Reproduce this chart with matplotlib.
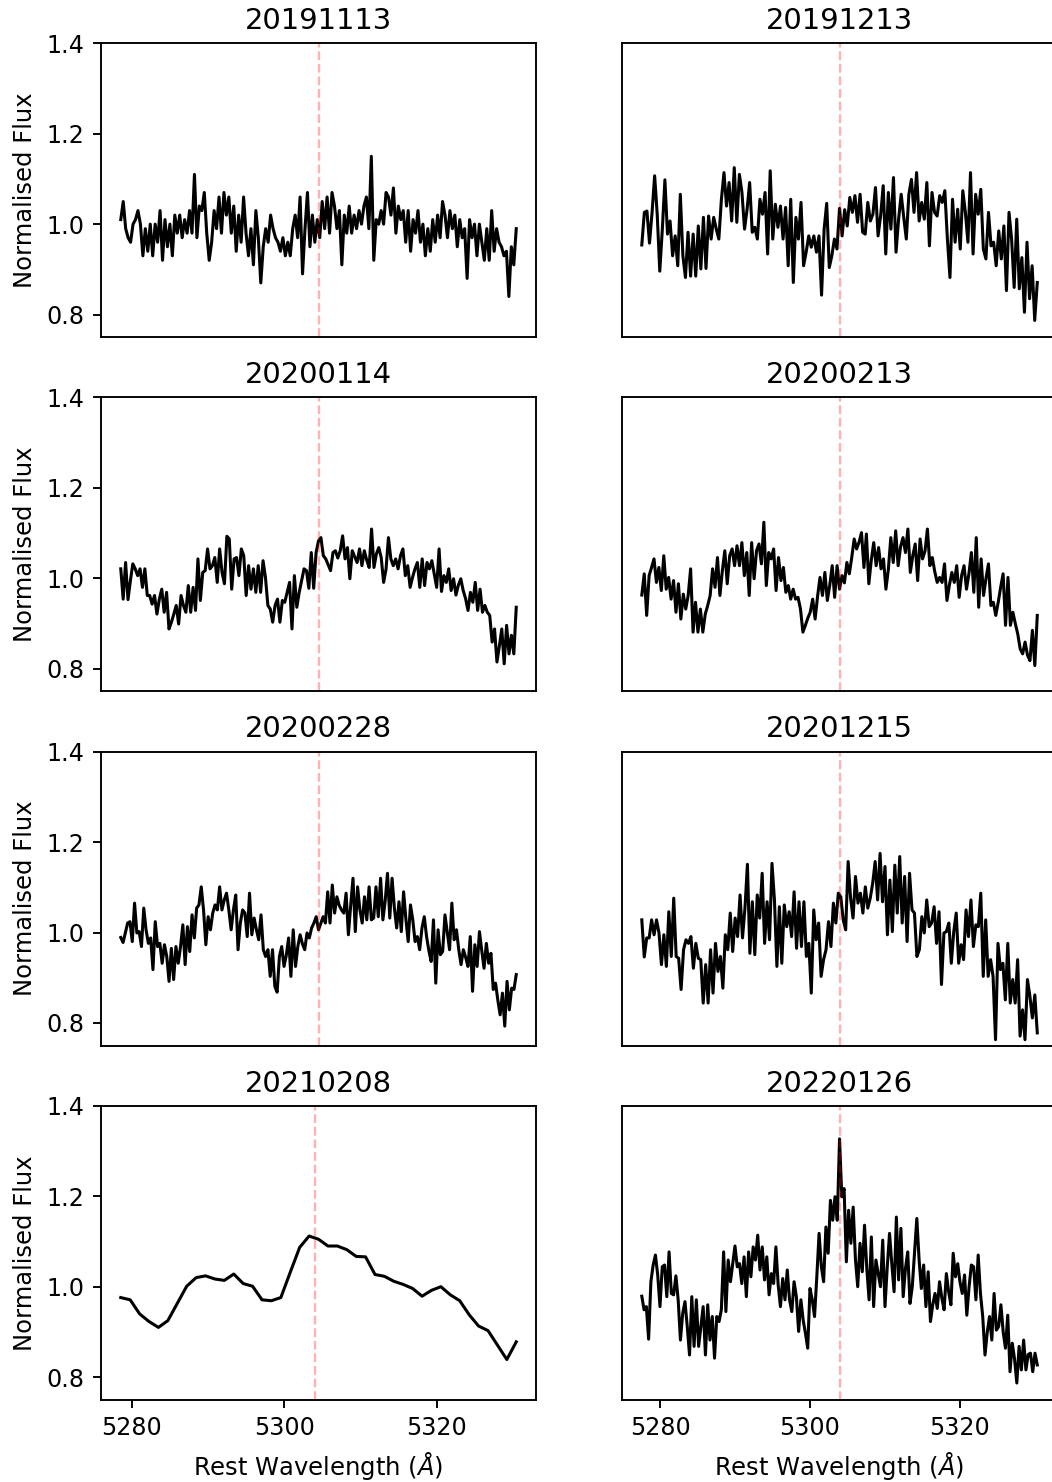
import numpy as np
import matplotlib
matplotlib.use("Agg")
import matplotlib.pyplot as plt

OUTPUT_PATH = "out.png"

# observation dates, one panel each (row-major)
EPOCHS = ["20191113", "20191213", "20200114", "20200213",
          "20200228", "20201215", "20210208", "20220126"]

# rest-frame wavelength coverage of the spectra (Angstrom)
WAVE_HIRES = (5277.5, 5330.4)
WAVE_LOWRES = (5278.56, 5330.4)
LINE_CENTRE = 5304.0

FLUX_20191113 = [
    1.01, 1.05, 0.99, 0.97, 0.96, 1.00, 1.01, 1.03, 1.00, 0.93, 0.99, 0.94, 1.00, 0.93, 1.00,
    0.96, 1.03, 0.92, 1.01, 0.95, 1.00, 0.93, 1.02, 0.98, 1.02, 0.97, 1.01, 0.98, 1.03,
    0.98, 1.11, 0.97, 1.04, 1.03, 1.07, 0.98, 0.92, 0.96, 1.03, 0.99, 1.06, 0.98,
    1.07, 1.02, 1.06, 0.98, 1.04, 0.94, 1.02, 0.96, 1.06, 0.98, 0.93, 0.99, 0.91, 1.03,
    0.97, 0.87, 0.95, 0.99, 0.96, 1.02, 0.99, 0.97, 0.96, 0.94, 0.97, 0.93, 0.96, 0.93,
    0.99, 1.02, 0.97, 1.06, 0.89, 0.99, 1.07, 0.95, 1.02, 0.96, 1.01, 0.97, 1.05,
    0.99, 1.06, 0.98, 1.07, 1.04, 0.99, 1.03, 0.91, 1.02, 0.98, 1.04, 0.98, 1.02, 0.99,
    1.03, 1.00, 1.04, 1.06, 0.99, 1.15, 0.92, 1.01, 1.00, 1.03, 1.00, 1.07, 1.06,
    1.02, 1.08, 0.98, 1.04, 1.01, 1.03, 0.96, 1.03, 0.94, 1.01, 0.98, 1.03, 0.96,
    1.00, 0.93, 0.99, 0.94, 1.01, 0.96, 1.02, 0.97, 1.05, 1.02, 0.97, 1.03, 0.99,
    1.02, 0.95, 1.01, 0.97, 0.99, 0.88, 1.01, 0.97, 1.00, 0.93, 1.00, 0.96, 0.92,
    0.99, 0.92, 1.03, 0.94, 0.99, 0.96, 0.95, 0.93, 0.94, 0.84, 0.95, 0.91, 0.99,
]

FLUX_20191213 = [
    0.954, 1.026, 1.029, 0.958, 1.026, 1.107, 1.022, 0.896, 0.989, 1.098, 0.978, 1.007,
    0.930, 0.974, 0.908, 1.066, 0.930, 0.882, 0.982, 0.885, 0.978, 0.885, 0.996, 0.901,
    1.015, 0.902, 1.018, 0.967, 1.015, 0.989, 0.967, 1.055, 1.114, 1.040, 1.092, 1.007,
    1.125, 1.004, 1.110, 1.070, 0.989, 1.033, 1.092, 0.982, 0.993, 0.967, 1.055, 1.022,
    1.070, 0.934, 1.118, 0.967, 1.044, 0.993, 1.040, 0.967, 1.037, 0.908, 1.055, 0.871,
    1.015, 0.967, 1.048, 0.908, 0.938, 0.974, 0.949, 0.974, 0.938, 0.974, 0.843, 0.989,
    1.046, 0.904, 0.930, 0.967, 0.945, 1.035, 0.974, 1.032, 0.996, 1.059, 1.026, 1.063,
    1.004, 1.066, 0.982, 0.978, 1.048, 1.007, 1.022, 1.081, 0.974, 1.018, 1.085, 0.934,
    1.070, 0.989, 1.103, 0.938, 1.011, 1.066, 1.015, 0.967, 1.066, 1.099, 1.026, 1.114,
    1.007, 1.048, 1.011, 1.092, 0.952, 1.070, 1.026, 1.018, 1.063, 1.048, 1.074, 0.967,
    0.882, 1.055, 0.960, 1.033, 0.945, 1.074, 1.026, 0.960, 1.114, 0.934, 1.066, 1.022,
    1.077, 0.945, 0.923, 1.026, 0.952, 0.960, 0.908, 0.985, 0.923, 0.996, 0.853, 1.026,
    0.967, 0.860, 1.011, 0.857, 0.926, 0.805, 0.960, 0.835, 0.908, 0.787, 0.871,
]

FLUX_20200114 = [
    1.021, 0.954, 1.035, 0.953, 0.995, 1.032, 1.021, 1.006, 1.021, 0.980, 1.021, 0.962,
    0.962, 0.943, 0.962, 0.921, 0.954, 0.976, 0.925, 0.969, 0.888, 0.903, 0.921, 0.940,
    0.899, 0.962, 0.940, 0.925, 0.984, 0.925, 0.980, 0.929, 1.043, 0.951, 1.013, 1.017,
    1.065, 1.021, 1.028, 1.046, 0.991, 1.065, 1.013, 0.988, 1.093, 1.087, 0.976, 1.043,
    1.046, 1.006, 1.065, 1.050, 0.962, 1.028, 0.976, 1.021, 0.969, 1.028, 0.969, 1.039,
    1.002, 0.940, 0.932, 0.903, 0.940, 0.954, 0.903, 0.951, 0.947, 0.969, 0.991, 0.888,
    1.006, 0.936, 0.969, 0.995, 1.021, 1.017, 0.978, 1.057, 0.978, 1.057, 1.083, 1.090,
    1.050, 1.043, 1.030, 1.017, 1.057, 1.061, 1.045, 1.061, 1.094, 1.043, 1.068, 0.999,
    1.061, 1.048, 1.035, 1.065, 1.028, 1.061, 1.040, 1.024, 1.109, 1.024, 1.054, 1.068,
    1.046, 0.991, 1.020, 1.090, 1.043, 1.028, 1.043, 1.021, 1.050, 1.065, 1.006, 1.028,
    0.980, 1.002, 1.021, 1.035, 0.980, 1.043, 0.984, 1.035, 1.021, 1.039, 1.010, 0.980,
    1.065, 0.971, 1.006, 0.991, 1.021, 0.973, 0.999, 0.963, 0.985, 0.999, 0.973, 0.955,
    0.929, 0.969, 0.947, 0.991, 0.929, 0.976, 0.925, 0.940, 0.925, 0.918, 0.859, 0.888,
    0.815, 0.850, 0.888, 0.811, 0.896, 0.833, 0.874, 0.833, 0.936,
]

FLUX_20200213 = [
    0.963, 1.010, 0.918, 1.006, 1.024, 1.043, 0.991, 1.024, 0.973, 1.050, 0.976, 1.002,
    0.954, 0.995, 0.925, 0.988, 0.910, 0.965, 0.932, 0.962, 1.021, 0.881, 0.947, 0.881,
    0.932, 0.881, 0.921, 0.940, 0.962, 1.021, 0.980, 1.046, 0.962, 1.017, 1.061, 0.988,
    1.050, 1.065, 1.028, 1.072, 1.028, 1.079, 1.006, 1.057, 0.962, 1.079, 0.999, 1.061,
    1.076, 1.032, 1.124, 0.984, 1.057, 1.043, 1.065, 0.973, 1.046, 0.995, 1.024, 0.969,
    0.984, 0.954, 0.976, 0.954, 0.958, 0.932, 0.881,
    0.896, 0.912, 0.925, 0.954, 0.910, 0.960, 1.002, 0.962, 1.013, 0.951, 0.985, 1.028,
    0.958, 1.028, 0.976, 1.006, 0.990, 1.035, 1.010, 1.046, 1.087, 1.065, 1.080, 1.101,
    1.024, 1.098, 0.988, 1.040, 1.079, 1.028, 1.068, 1.021, 1.043, 0.976, 1.020, 1.090,
    1.035, 1.105, 1.028, 1.070, 1.090, 1.057, 1.109, 1.013, 1.050, 1.076, 0.995, 1.087,
    1.043, 1.060, 1.109, 1.028, 1.046, 1.015, 0.991, 1.002, 0.991, 1.032, 0.951, 0.985,
    1.013, 0.991, 1.028, 0.958, 1.006, 1.028, 0.976, 1.010, 1.057, 0.969, 1.090, 0.936,
    1.043, 0.962, 1.000, 1.032, 0.940, 0.947, 0.918, 0.947, 0.980, 1.010, 0.896, 1.002,
    0.896, 0.925, 0.900, 0.877, 0.844, 0.833, 0.859, 0.830, 0.818, 0.885, 0.807, 0.918,
]

FLUX_20200228 = [
    0.989, 0.978, 1.000, 1.021, 1.024, 0.980, 1.065, 0.999, 1.002, 0.969, 1.054, 1.006,
    0.976, 0.988, 0.918, 1.024, 0.969, 0.976, 0.932, 0.973, 0.947, 0.892, 0.965, 0.896,
    0.969, 0.932, 0.969, 1.017, 0.929, 1.013, 0.958, 1.039, 0.988, 1.054, 1.061, 1.101,
    1.050, 0.973, 1.035, 1.006, 1.043, 1.061, 1.050, 1.101, 1.050, 1.072, 1.087, 1.050,
    1.006, 1.050, 1.083, 0.962, 1.021, 1.050, 1.043, 0.991, 1.087, 0.995, 1.032, 1.006,
    0.984, 1.039, 0.962, 0.947, 0.962, 0.903, 0.962, 0.881, 0.868,
    0.947, 0.969, 0.925, 0.950, 0.988, 0.903, 1.006, 0.925, 0.969, 0.995, 0.975, 0.962,
    0.999, 0.988, 1.010, 1.021, 1.035, 1.006, 1.020, 1.035, 1.021, 1.090, 1.021, 1.105,
    1.043, 1.079, 1.060, 1.050, 1.043, 1.087, 0.995, 1.060, 1.120, 1.002, 1.101, 1.050,
    1.021, 1.079, 1.028, 1.101, 1.028, 1.032, 1.101, 1.035, 1.120, 1.028, 1.070, 1.131,
    1.032, 1.120, 1.054, 1.010, 1.068, 1.002, 1.090, 1.030, 0.980, 1.061, 1.028, 0.980,
    0.991, 0.962, 1.010, 1.035, 0.991, 0.960, 0.936, 1.028, 0.888, 1.006, 0.951, 0.958,
    1.039, 1.000, 0.962, 1.065, 0.984, 1.006, 0.962, 0.929, 0.962, 0.945, 0.925, 0.991,
    0.870, 0.973, 0.925, 1.002, 0.960, 0.921, 0.976, 0.932, 0.954, 0.874, 0.888, 0.850,
    0.818, 0.866, 0.793, 0.892, 0.829, 0.877, 0.874, 0.907,
]

FLUX_20201215 = [
    1.028, 0.946, 0.988, 0.988, 1.028, 0.995, 1.028, 0.999, 0.929, 0.995, 0.925, 1.046,
    0.947, 1.076, 0.947, 0.943, 0.874, 0.962, 0.984, 0.976, 0.991, 0.921, 0.976, 0.943,
    0.940, 0.844, 0.929, 0.844, 0.962, 0.866, 0.976, 0.914, 0.947, 0.877, 0.995, 0.962,
    1.043, 0.958, 1.032, 0.991, 1.083, 0.988, 1.054, 1.151, 0.954, 1.068, 0.951, 1.083,
    1.032, 1.131, 0.976, 1.068, 0.984, 1.153, 1.072, 0.925, 1.057, 0.932, 1.061, 1.013,
    1.046, 0.991, 1.090, 0.965, 1.068, 0.969, 1.068, 0.947, 0.976, 0.866, 1.050, 0.984,
    1.021, 0.903, 0.940, 0.962, 1.024, 0.969, 1.065, 1.021, 1.087, 1.079, 1.028, 1.006,
    1.157, 1.076, 1.032, 1.124, 1.065, 1.087, 1.043, 1.101, 1.054, 1.076, 1.109, 1.157,
    1.072, 1.175, 1.068, 1.146, 0.995, 1.116, 1.002, 1.149, 1.043, 1.168, 1.021, 1.124,
    0.980, 1.131, 1.050, 1.043, 0.947, 0.962, 1.035, 0.999, 1.072, 1.013, 1.021, 1.057,
    0.976, 1.046, 0.885, 0.999, 1.002, 1.021, 0.932, 1.002, 1.043, 0.932, 0.973, 0.940,
    1.050, 0.991, 1.072, 0.969, 1.017, 1.013, 1.087, 0.903, 1.028, 0.903, 0.940, 0.903,
    0.763, 0.976, 0.918, 0.932, 0.851, 0.976, 0.844, 0.896, 0.844, 0.940, 0.771, 0.829,
    0.763, 0.896, 0.859, 0.811, 0.862, 0.778,
]

FLUX_20210208 = [
    0.976, 0.971, 0.940, 0.923, 0.910, 0.925, 0.963, 1.001, 1.020, 1.024, 1.017, 1.014,
    1.028, 1.007, 1.001, 0.971, 0.969, 0.976, 1.032, 1.087, 1.112, 1.105, 1.090, 1.090,
    1.082, 1.067, 1.066, 1.027, 1.023, 1.012, 1.005, 0.996, 0.979, 0.992, 1.000, 0.982,
    0.969, 0.938, 0.913, 0.903, 0.871, 0.839, 0.878,
]

FLUX_20220126 = [
    0.979, 0.949, 0.956, 0.884, 1.011, 1.048, 1.070, 1.026, 0.956, 1.044, 1.048, 0.978,
    1.077, 0.985, 0.982, 1.024, 0.971, 0.882, 0.941, 0.967, 0.912, 0.849, 0.978, 0.868,
    0.971, 0.868, 0.912, 0.956, 0.849, 0.960, 0.882, 0.934, 0.842, 0.934, 0.923, 0.949,
    1.077, 0.945, 1.059, 1.011, 1.051, 1.090, 1.044, 1.051, 1.007, 1.066, 0.978, 1.077,
    1.022, 1.088, 1.059, 1.114, 1.037, 1.088, 1.015, 1.066, 0.982, 1.029, 1.007, 1.088,
    1.004, 0.956, 1.018, 0.971, 1.037, 0.971, 0.945, 1.011, 0.978, 0.901, 0.971, 0.926,
    0.897, 0.864, 0.996, 0.971, 0.934, 1.022, 1.118, 1.044, 1.011, 1.132, 1.074, 1.191,
    1.147, 1.199, 1.147, 1.327,
    1.199, 1.217, 1.055, 1.169, 1.096, 1.176, 1.060, 1.000, 1.096, 1.033, 1.136, 1.040,
    0.971, 1.110, 0.956, 1.059, 1.030, 1.000, 1.103, 0.956, 1.044, 1.118, 1.050, 0.989,
    1.154, 1.015, 1.129, 0.978, 1.040, 1.077, 0.963, 1.000, 1.074, 1.151, 1.060, 0.996,
    1.048, 0.956, 1.033, 0.923, 0.960, 0.985, 0.952, 1.011, 0.975, 0.949, 1.029, 0.989,
    0.960, 1.074, 1.022, 1.051, 1.010, 0.985, 1.026, 0.937, 1.000, 1.048, 1.044, 0.971,
    1.070, 0.985, 0.934, 0.849, 0.900, 0.934, 0.882, 0.985, 0.904, 0.912, 0.960, 0.900,
    0.864, 0.937, 0.812, 0.875, 0.840, 0.787, 0.868, 0.816, 0.882, 0.816, 0.850, 0.853,
    0.812, 0.853, 0.827,
]

FLUX = {
    "20191113": FLUX_20191113,
    "20191213": FLUX_20191213,
    "20200114": FLUX_20200114,
    "20200213": FLUX_20200213,
    "20200228": FLUX_20200228,
    "20201215": FLUX_20201215,
    "20210208": FLUX_20210208,
    "20220126": FLUX_20220126,
}

Y_TICKS = [0.8, 1.0, 1.2, 1.4]
X_TICKS = [5280, 5300, 5320]

# sizes are the matplotlib defaults blown up for a large 100 dpi canvas
S = 1.71
plt.rcParams.update({
    "font.family": "DejaVu Sans",
    "font.size": 10 * S,
    "axes.titlesize": 12.2 * S,
    "axes.titlepad": 6 * S,
    "axes.labelsize": 10.2 * S,
    "axes.labelpad": 4 * S,
    "axes.linewidth": 0.8 * S,
    "xtick.major.size": 3.5 * S,
    "ytick.major.size": 3.5 * S,
    "xtick.major.width": 0.8 * S,
    "ytick.major.width": 0.8 * S,
    "xtick.major.pad": 3.5 * S,
    "ytick.major.pad": 3.5 * S,
    "xtick.labelsize": 10 * S,
    "ytick.labelsize": 10 * S,
})

fig, axes = plt.subplots(4, 2, figsize=(10.52, 14.82), dpi=100)
fig.subplots_adjust(left=0.0960, right=1.0048, bottom=0.0555, top=0.9708,
                    wspace=0.1977, hspace=0.2051)

for i, (ax, epoch) in enumerate(zip(axes.flat, EPOCHS)):
    row, col = divmod(i, 2)
    flux = np.asarray(FLUX[epoch])
    lo, hi = WAVE_LOWRES if epoch == "20210208" else WAVE_HIRES
    wave = np.linspace(lo, hi, len(flux))

    ax.plot(wave, flux, color="k", lw=2.2)
    ax.axvline(LINE_CENTRE, color="r", ls="--", alpha=0.3, lw=1.0 * S)
    ax.set_ylim(0.75, 1.4)
    ax.set_title(epoch)

    if col == 0:
        ax.set_yticks(Y_TICKS)
        ax.set_ylabel("Normalised Flux")
    else:
        ax.set_yticks([])

    if row == 3:
        ax.set_xticks(X_TICKS)
        ax.set_xlabel(r"Rest Wavelength ($\AA$)")
    else:
        ax.set_xticks([])

fig.savefig(OUTPUT_PATH, dpi=100)
plt.close(fig)
